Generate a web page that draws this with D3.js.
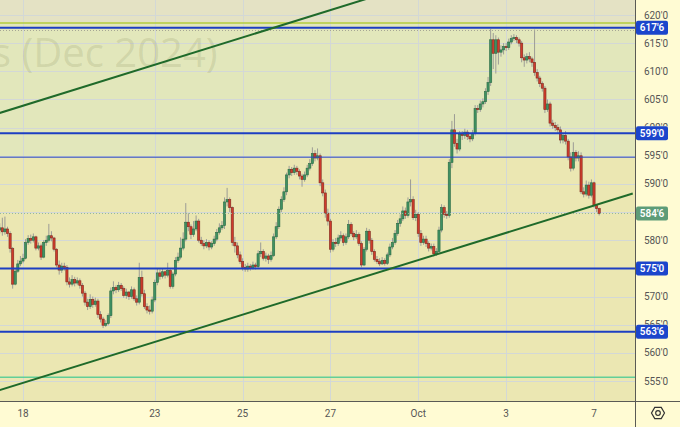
<!DOCTYPE html>
<html><head><meta charset="utf-8">
<script src="https://cdn.jsdelivr.net/npm/d3@7"></script>
<style>html,body{margin:0;padding:0;background:#fffbd3;overflow:hidden}svg{display:block}</style>
</head><body>
<svg id="c" width="680" height="427"></svg>
<script>
// ---------- DATA ----------
const firstBar = -9; // bar index of first candle (Sept 18 first bar = 0)
const opens = [
 581.8,582.2,581.5,582.0,581.2,578.5,572.2,574.5,575.8,
 576.3,576.8,579.6,580.3,580.0,580.6,578.6,579.0,577.0,579.6,580.0,580.8,580.4,578.4,575.6,574.7,575.4,
 575.2,572.6,572.2,573.0,572.4,572.8,572.0,570.6,569.0,568.2,569.5,568.6,569.2,566.8,566.0,564.9,565.2,
 566.6,571.0,571.6,571.2,572.0,571.4,570.2,570.8,570.0,571.2,569.6,569.0,573.4,570.5,568.2,567.6,567.4,
 569.4,572.5,574.2,573.6,574.4,573.8,574.6,571.8,574.0,576.4,577.0,578.6,580.2,583.2,582.4,581.0,582.0,
 583.4,580.0,579.4,579.0,579.6,578.8,579.4,580.2,581.4,582.2,582.6,586.8,587.2,585.8,579.6,579.0,577.4,
 576.2,575.2,574.9,575.4,575.0,575.6,575.3,577.6,578.0,576.8,577.2,576.6,577.3,580.6,582.4,585.5,587.2,
 588.6,591.6,592.6,592.0,592.8,592.2,591.4,590.8,591.6,592.8,593.6,595.4,594.6,595.0,590.2,588.4,584.8,
 583.4,578.4,579.6,579.4,580.4,580.8,579.6,580.6,582.8,581.2,580.6,581.0,579.4,575.6,578.4,581.6,580.0,
 578.0,576.6,576.2,575.8,576.4,575.9,577.4,578.8,579.6,581.2,583.0,583.8,585.2,584.4,586.8,587.2,584.0,
 584.6,581.2,579.6,580.2,579.4,578.6,578.9,577.6,578.0,581.8,585.8,584.6,584.4,593.8,599.6,597.2,596.2,
 598.8,598.6,599.2,598.4,598.0,599.0,603.4,603.2,604.2,604.6,606.4,608.0,615.6,613.2,615.6,613.4,613.8,
 614.4,614.2,615.2,615.8,616.0,615.6,615.0,612.4,612.0,612.6,612.2,611.6,609.8,608.8,607.8,607.0,603.2,
 604.2,600.8,600.4,600.0,599.6,597.8,598.6,597.6,594.8,592.8,595.6,594.6,595.0,588.6,588.2,589.8,588.0,
 590.2,586.2,585.6
];
const highs = [
 583.0,584.0,584.2,582.4,581.6,578.8,575.0,576.5,577.2,
 577.6,580.2,580.9,581.0,581.2,580.8,579.6,579.4,580.0,580.8,582.9,581.6,580.6,578.6,576.4,576.0,576.0,
 575.6,573.4,573.8,573.5,573.4,573.2,572.4,571.0,569.6,570.4,570.0,569.8,569.6,567.4,566.4,565.8,567.0,
 571.6,572.7,572.0,572.6,572.4,571.8,571.4,571.0,571.8,571.6,570.2,576.0,574.6,571.2,568.8,568.4,570.0,
 573.0,575.0,574.8,575.0,574.6,576.0,575.0,574.4,577.0,577.8,580.5,581.4,586.6,584.8,582.8,583.4,584.4,
 583.8,580.6,580.0,580.2,580.0,579.8,580.8,582.0,583.0,583.4,587.6,589.3,587.6,586.0,580.6,579.6,578.0,
 576.8,575.8,576.0,575.8,576.2,576.0,578.2,579.6,578.4,577.8,577.6,578.0,581.2,583.2,586.0,587.8,589.4,
 592.0,593.2,593.0,593.4,593.2,592.6,591.8,592.2,593.4,594.4,596.5,596.0,596.3,595.4,590.8,589.0,585.6,
 583.8,580.2,580.4,581.0,581.6,581.2,581.2,583.6,583.2,581.6,581.8,581.4,579.8,578.8,582.2,582.0,580.4,
 578.4,577.2,576.8,577.0,576.8,577.8,579.4,580.4,581.8,583.6,584.6,586.0,585.8,587.6,590.8,587.8,585.4,
 585.0,581.8,580.8,580.8,579.8,579.4,579.4,578.6,582.4,586.4,586.2,585.2,594.4,601.2,602.4,598.0,599.4,
 599.4,599.8,599.6,598.8,599.6,604.0,604.0,604.8,605.2,607.0,609.0,617.5,616.8,616.4,616.0,614.6,615.0,
 615.0,615.8,616.4,616.6,616.4,616.0,615.4,613.0,613.2,613.4,612.6,617.4,610.4,609.2,608.2,607.4,605.0,
 604.6,601.4,601.0,600.6,600.2,599.0,599.4,598.0,595.6,597.4,596.0,595.8,595.6,589.4,590.6,590.4,590.8,
 590.4,586.4,585.8
];
const lows = [
 581.2,580.8,581.0,580.6,577.8,571.4,572.0,574.2,575.4,
 575.9,576.6,579.2,579.4,579.6,578.2,578.2,576.5,576.8,579.0,579.6,579.8,578.0,575.2,573.9,574.2,574.6,
 572.0,571.6,571.8,571.8,572.0,571.4,570.0,568.4,567.6,567.8,568.0,568.2,566.2,565.4,564.4,564.6,564.9,
 566.2,570.4,570.6,570.8,571.0,569.8,569.6,569.4,569.6,569.2,568.4,568.6,570.0,567.8,567.0,566.8,567.0,
 569.0,572.0,573.0,573.2,573.2,573.4,571.4,571.4,573.6,576.0,576.6,578.2,579.8,581.6,580.2,580.6,581.6,
 579.6,579.0,578.4,578.6,578.2,578.4,579.0,579.8,581.0,581.8,582.0,586.0,585.0,579.0,577.8,576.8,575.8,
 574.6,574.4,574.4,574.6,574.8,574.8,575.0,577.0,576.4,576.2,575.8,576.2,577.0,580.2,582.0,585.0,586.8,
 588.0,591.0,591.4,591.6,591.6,590.8,589.5,590.4,591.2,592.4,593.2,594.0,594.2,589.6,587.8,584.0,582.6,
 577.8,578.0,578.8,579.0,579.8,579.0,579.2,580.2,580.8,580.0,580.2,579.0,575.2,575.4,578.0,579.4,577.4,
 576.2,575.8,575.4,575.6,575.5,575.6,577.0,578.4,579.2,580.8,582.4,583.4,583.8,584.0,586.0,583.6,583.4,
 580.6,579.0,579.2,578.8,578.0,578.2,577.1,577.2,577.6,581.4,584.0,583.8,584.0,592.8,596.6,595.4,595.8,
 597.8,598.0,597.8,597.4,597.6,598.6,602.6,602.8,603.6,604.2,605.8,607.4,610.4,609.6,611.2,612.6,613.0,
 613.6,613.8,614.8,615.4,615.0,614.4,611.6,610.8,611.4,611.6,610.8,609.2,608.2,607.2,606.4,602.6,602.8,
 600.2,599.8,599.4,599.0,597.2,597.2,597.0,594.2,592.2,592.4,594.0,594.0,588.2,587.6,587.8,587.4,587.6,
 585.8,585.0,584.4
];
const closes = [
 582.2,581.5,582.0,581.2,578.5,572.2,574.5,575.8,576.3,
 576.8,579.6,580.3,580.0,580.6,578.6,579.0,577.0,579.6,580.0,580.8,580.4,578.4,575.6,574.7,575.4,575.2,
 572.6,572.2,573.0,572.4,572.8,572.0,570.6,569.0,568.2,569.5,568.6,569.2,566.8,566.0,564.9,565.2,566.6,
 571.0,571.6,571.2,572.0,571.4,570.2,570.8,570.0,571.2,569.6,569.0,573.4,570.5,568.2,567.6,567.4,569.4,
 572.5,574.2,573.6,574.4,573.8,574.6,571.8,574.0,576.4,577.0,578.6,580.2,583.2,582.4,581.0,582.0,583.4,
 580.0,579.4,579.0,579.6,578.8,579.4,580.2,581.4,582.2,582.6,586.8,587.2,585.8,579.6,579.0,577.4,576.2,
 575.2,574.9,575.4,575.0,575.6,575.3,577.6,578.0,576.8,577.2,576.6,577.3,580.6,582.4,585.5,587.2,588.6,
 591.6,592.6,592.0,592.8,592.2,591.4,590.8,591.6,592.8,593.6,595.4,594.6,595.0,590.2,588.4,584.8,583.4,
 578.4,579.6,579.4,580.4,580.8,579.6,580.6,582.8,581.2,580.6,581.0,579.4,575.6,578.4,581.6,580.0,578.0,
 576.6,576.2,575.8,576.4,575.9,577.4,578.8,579.6,581.2,583.0,583.8,585.2,584.4,586.8,587.2,584.0,584.6,
 581.2,579.6,580.2,579.4,578.6,578.9,577.6,578.0,581.8,585.8,584.6,584.4,593.8,599.6,597.2,596.2,598.8,
 598.6,599.2,598.4,598.0,599.0,603.4,603.2,604.2,604.6,606.4,608.0,615.6,613.2,615.6,613.4,613.8,614.4,
 614.2,615.2,615.8,616.0,615.6,615.0,612.4,612.0,612.6,612.2,611.6,609.8,608.8,607.8,607.0,603.2,604.2,
 600.8,600.4,600.0,599.6,597.8,598.6,597.6,594.8,592.8,595.6,594.6,595.0,588.6,588.2,589.8,588.0,590.2,
 586.2,585.6,584.75
];
const dayLabels = ["18","23","25","27","Oct","3","7"];
const dayBars   = [0, 51, 85, 119, 153, 187, 221];
const priceTicks = [555,560,565,570,575,580,585,590,595,600,605,610,615,620];
const hiddenTicks = [575, 585];                      // fully covered by price tags
const keyLevels  = [617.75, 599, 575, 563.75];      // thick blue, labelled
const thinLevel  = 594.75;                           // thin blue
const limeLevel  = 618.6;                            // yellow-green line
const tealLevel  = 555.65;                           // light green line
const highDotted = 617.25;                           // dotted high line
const lastPrice  = 584.75;
const trendUpper = [[-9, 602.6], [150, 625.3]];
const trendLower = [[-9, 553.4], [236, 588.3]];
const watermark  = "s (Dec 2024)";

// ---------- LAYOUT ----------
const W = 680, H = 427, PR = 635, PB = 401;
const svg = d3.select("#c");
const x = d3.scaleLinear().domain([0, 221]).range([23, 594]);
const y = d3.scaleLinear().domain([555, 620]).range([381, 15]);
const fmt = p => Math.floor(p) + "'" + Math.round((p - Math.floor(p)) * 8);
const FONT = "Roboto, 'Noto Sans', sans-serif";

svg.append("rect").attr("width", W).attr("height", H).attr("fill", "#fffbd3");
const defs = svg.append("defs");
defs.append("clipPath").attr("id", "plot")
  .append("rect").attr("x", 0).attr("y", 0).attr("width", PR).attr("height", PB);
const g = svg.append("g").attr("clip-path", "url(#plot)");

// zones
g.append("rect").attr("x", 0).attr("y", 0).attr("width", PR).attr("height", PB).attr("fill", "#ebe7b2");
g.append("rect").attr("x", 0).attr("y", 0).attr("width", PR).attr("height", y(limeLevel)).attr("fill", "#e4e2c4");
g.append("rect").attr("x", 0).attr("y", y(limeLevel)).attr("width", PR)
  .attr("height", y(thinLevel) - y(limeLevel)).attr("fill", "#e2e7bb");

// grid
g.selectAll(".hg").data(priceTicks).join("line")
  .attr("x1", 0).attr("x2", PR).attr("y1", d => Math.round(y(d)) + 0.5).attr("y2", d => Math.round(y(d)) + 0.5)
  .attr("stroke", "#d3d8d6").attr("stroke-width", 1);
g.selectAll(".vg").data(dayBars).join("line")
  .attr("y1", 0).attr("y2", PB).attr("x1", d => Math.round(x(d)) + 0.5).attr("x2", d => Math.round(x(d)) + 0.5)
  .attr("stroke", "#d3d8d6").attr("stroke-width", 1);

// watermark
g.append("text").attr("x", -8).attr("y", 67).text(watermark)
  .attr("font-family", "'Open Sans', sans-serif").attr("font-size", 40)
  .attr("fill", "rgba(95,100,50,0.14)");

// candles
const bars = closes.map((c, k) => ({ i: firstBar + k, o: opens[k], h: highs[k], l: lows[k], c }));
g.selectAll(".wick").data(bars).join("line")
  .attr("x1", d => x(d.i)).attr("x2", d => x(d.i))
  .attr("y1", d => y(d.h)).attr("y2", d => y(d.l))
  .attr("stroke", "#9c9c96").attr("stroke-width", 1);
g.selectAll(".body").data(bars).join("rect")
  .attr("x", d => x(d.i) - 1.1).attr("width", 2.2)
  .attr("y", d => y(Math.max(d.o, d.c)))
  .attr("height", d => Math.max(1, Math.abs(y(d.o) - y(d.c))))
  .attr("fill", d => d.c >= d.o ? "#3f9162" : "#cf3b2c")
  .attr("stroke", d => d.c >= d.o ? "#2a6a44" : "#7e2a1e").attr("stroke-width", 0.6);

// horizontal levels
const hline = (p, color, w, dash) => {
  const l = g.append("line").attr("x1", 0).attr("x2", PR).attr("y1", y(p)).attr("y2", y(p))
    .attr("stroke", color).attr("stroke-width", w);
  if (dash) l.attr("stroke-dasharray", dash);
};
hline(limeLevel, "#b3cd3e", 1.5);
hline(tealLevel, "#62cf98", 1.5);
hline(thinLevel, "#2747c6", 1);
hline(highDotted, "#a5a595", 1, "1,2");
hline(lastPrice, "#93b89c", 1, "1,2");
keyLevels.forEach(p => hline(p, "#1d3fc2", 2));

// trend lines
[trendUpper, trendLower].forEach(t => {
  g.append("line").attr("x1", x(t[0][0])).attr("y1", y(t[0][1]))
    .attr("x2", x(t[1][0])).attr("y2", y(t[1][1]))
    .attr("stroke", "#1f6a2a").attr("stroke-width", 2);
});

// axes borders
svg.append("line").attr("x1", PR + 0.5).attr("x2", PR + 0.5).attr("y1", 0).attr("y2", H).attr("stroke", "#5a5a55");
svg.append("line").attr("x1", 0).attr("x2", W).attr("y1", PB + 0.5).attr("y2", PB + 0.5).attr("stroke", "#5a5a55");

// price labels (ticks partly hidden behind tags are clipped to their visible part)
const tagBoxes = keyLevels.concat([lastPrice]).map(p => [y(p) - 7, y(p) + 7]);
const axisClip = defs.append("clipPath").attr("id", "axisclip");
{
  // visible bands = full height minus tag boxes
  const cuts = tagBoxes.slice().sort((a, b) => a[0] - b[0]);
  let top = 0;
  cuts.forEach(c => {
    if (c[0] > top) axisClip.append("rect").attr("x", 636).attr("y", top).attr("width", 44).attr("height", c[0] - top);
    top = Math.max(top, c[1]);
  });
  axisClip.append("rect").attr("x", 636).attr("y", top).attr("width", 44).attr("height", PB - top);
}
svg.append("g").attr("clip-path", "url(#axisclip)")
  .selectAll(".pt").data(priceTicks.filter(d => !hiddenTicks.includes(d))).join("text")
  .attr("x", 656).attr("y", d => y(d)).attr("dy", "0.35em").attr("text-anchor", "middle")
  .attr("font-family", FONT).attr("font-size", 10).attr("fill", "#555")
  .text(d => fmt(d));

// date labels
svg.selectAll(".dt").data(dayBars).join("text")
  .attr("x", d => x(d)).attr("y", 413).attr("dy", "0.35em").attr("text-anchor", "middle")
  .attr("font-family", FONT).attr("font-size", 10).attr("fill", "#555")
  .text((d, k) => dayLabels[k]);

// coloured price labels
const tag = (p, color) => {
  const yy = y(p);
  svg.append("rect").attr("x", 636).attr("y", yy - 7).attr("width", 32).attr("height", 14)
    .attr("rx", 2).attr("fill", color);
  svg.append("text").attr("x", 652).attr("y", yy).attr("dy", "0.35em").attr("text-anchor", "middle")
    .attr("font-family", FONT).attr("font-size", 10).attr("font-weight", 600).attr("fill", "#fff")
    .text(fmt(p));
};
keyLevels.forEach(p => tag(p, "#1b45cc"));
tag(lastPrice, "#5d9c78");

// settings icon
const ic = svg.append("g").attr("transform", "translate(658,413)");
const hex = d3.range(6).map(k => {
  const a = Math.PI / 3 * k;
  return [6.5 * Math.cos(a), 6.5 * Math.sin(a)];
});
ic.append("path").attr("d", "M" + hex.join("L") + "Z").attr("fill", "none").attr("stroke", "#333").attr("stroke-width", 1.2);
ic.append("circle").attr("r", 2.3).attr("fill", "none").attr("stroke", "#333").attr("stroke-width", 1.2);
</script>
</body></html>
